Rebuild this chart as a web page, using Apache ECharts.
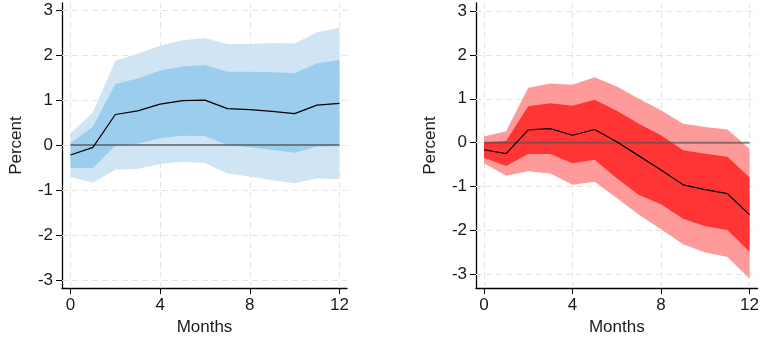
<!DOCTYPE html>
<html><head><meta charset="utf-8">
<script src="https://cdn.jsdelivr.net/npm/echarts@6/dist/echarts.min.js"></script>
<style>html,body{margin:0;padding:0;background:#fff}#c{width:762px;height:341px}</style>
</head><body><div id="c"></div>
<script>
const months = [0,1,2,3,4,5,6,7,8,9,10,11,12];
const xTicks = [0,4,8,12];
const yTicks = [-3,-2,-1,0,1,2,3];

const blueMean    = [-0.22,-0.05,0.68,0.76,0.91,0.99,1.00,0.81,0.79,0.75,0.70,0.89,0.93];
const blueInnerHi = [0.04,0.41,1.36,1.48,1.66,1.75,1.78,1.63,1.63,1.62,1.60,1.82,1.89];
const blueInnerLo = [-0.51,-0.51,-0.01,0.03,0.15,0.21,0.20,0.00,-0.05,-0.11,-0.17,-0.03,-0.02];
const blueOuterHi = [0.25,0.73,1.88,2.03,2.21,2.33,2.38,2.25,2.25,2.27,2.26,2.51,2.61];
const blueOuterLo = [-0.71,-0.84,-0.54,-0.53,-0.42,-0.37,-0.40,-0.63,-0.70,-0.78,-0.85,-0.74,-0.76];

const redMean    = [-0.16,-0.25,0.29,0.32,0.17,0.30,0.02,-0.30,-0.62,-0.96,-1.07,-1.16,-1.64];
const redInnerHi = [0.01,0.04,0.83,0.90,0.84,0.98,0.73,0.43,0.17,-0.17,-0.25,-0.32,-0.79];
const redInnerLo = [-0.34,-0.53,-0.26,-0.26,-0.47,-0.39,-0.81,-1.19,-1.40,-1.73,-1.90,-1.99,-2.48];
const redOuterHi = [0.14,0.26,1.25,1.35,1.32,1.49,1.28,1.00,0.74,0.43,0.36,0.30,-0.14];
const redOuterLo = [-0.47,-0.75,-0.65,-0.70,-0.96,-0.89,-1.26,-1.64,-1.97,-2.31,-2.50,-2.60,-3.10];

const panels = [
  {left:62, right:415, xmin:-0.38, xmax:12.34, ymin:-3.18, ymax:3.16,
   mean:blueMean, iHi:blueInnerHi, iLo:blueInnerLo, oHi:blueOuterHi, oLo:blueOuterLo,
   outerColor:'#cfe5f4', innerColor:'#9bcdec'},
  {left:476, right:2, xmin:-0.36, xmax:12.36, ymin:-3.31, ymax:3.18,
   mean:redMean, iHi:redInnerHi, iLo:redInnerLo, oHi:redOuterHi, oLo:redOuterLo,
   outerColor:'#ff9a9a', innerColor:'#ff3535'}
];

const font = '"Liberation Sans", Arial, sans-serif';
const grids=[], xAxes=[], yAxes=[], series=[];
panels.forEach((p,i)=>{
  grids.push({left:p.left, right:p.right, top:3, bottom:50});
  xAxes.push({type:'value', gridIndex:i, min:p.xmin, max:p.xmax,
    name:'Months', nameLocation:'middle', nameGap:27,
    nameTextStyle:{fontFamily:font, fontSize:17, color:'#1a1a1a'},
    axisLine:{show:true, onZero:false, lineStyle:{color:'#000', width:1.3}},
    axisTick:{show:true, length:6, customValues:xTicks, lineStyle:{color:'#000'}},
    axisLabel:{customValues:xTicks, margin:9, fontFamily:font, fontSize:17, color:'#1a1a1a'},
    splitLine:{show:false}});
  yAxes.push({type:'value', gridIndex:i, min:p.ymin, max:p.ymax,
    name:'Percent', nameLocation:'middle', nameGap:37, nameRotate:90,
    nameTextStyle:{fontFamily:font, fontSize:17, color:'#1a1a1a'},
    axisLine:{show:true, onZero:false, lineStyle:{color:'#000', width:1.3}},
    axisTick:{show:true, length:6, customValues:yTicks, lineStyle:{color:'#000'}},
    axisLabel:{customValues:yTicks, margin:9, fontFamily:font, fontSize:17, color:'#1a1a1a'},
    splitLine:{show:false}});
  const gridLines = [];
  yTicks.forEach(v=>gridLines.push([{coord:[p.xmin,v]},{coord:[p.xmax,v]}]));
  xTicks.forEach(v=>gridLines.push([{coord:[v,p.ymin]},{coord:[v,p.ymax]}]));
  series.push({type:'line', xAxisIndex:i, yAxisIndex:i, data:[], z:1, silent:true,
    markLine:{silent:true, z:1, symbol:['none','none'], label:{show:false},
      lineStyle:{color:'#e4e4e4', type:[6,4], width:1}, data:gridLines}});
  const band = (lo, hi, color, z) => {
    series.push({type:'custom', xAxisIndex:i, yAxisIndex:i, z:z, silent:true,
      data: months.map((m,k)=>[m, lo[k], hi[k]]),
      encode:{x:0, y:[1,2]},
      renderItem:(params, api)=>{
        if (params.dataIndex !== 0) return null;
        const pts = [];
        months.forEach((m,k)=>pts.push(api.coord([m, hi[k]])));
        for (let k=months.length-1;k>=0;k--) pts.push(api.coord([months[k], lo[k]]));
        return {type:'polygon', shape:{points:pts}, style:{fill:color}};
      }});
  };
  band(p.oLo, p.oHi, p.outerColor, 2);
  band(p.iLo, p.iHi, p.innerColor, 3);
  series.push({type:'line', xAxisIndex:i, yAxisIndex:i, data:[[0,0],[12,0]], symbol:'none',
    lineStyle:{color:'rgba(85,85,85,0.7)', width:2}, z:4, silent:true});
  series.push({type:'line', xAxisIndex:i, yAxisIndex:i, data:months.map((m,k)=>[m,p.mean[k]]),
    symbol:'none', lineStyle:{color:'#000', width:1.2}, z:5, silent:true});
});

const chart = echarts.init(document.getElementById('c'), null, {renderer:'canvas'});
chart.setOption({animation:false, grid:grids, xAxis:xAxes, yAxis:yAxes, series:series});
</script></body></html>
